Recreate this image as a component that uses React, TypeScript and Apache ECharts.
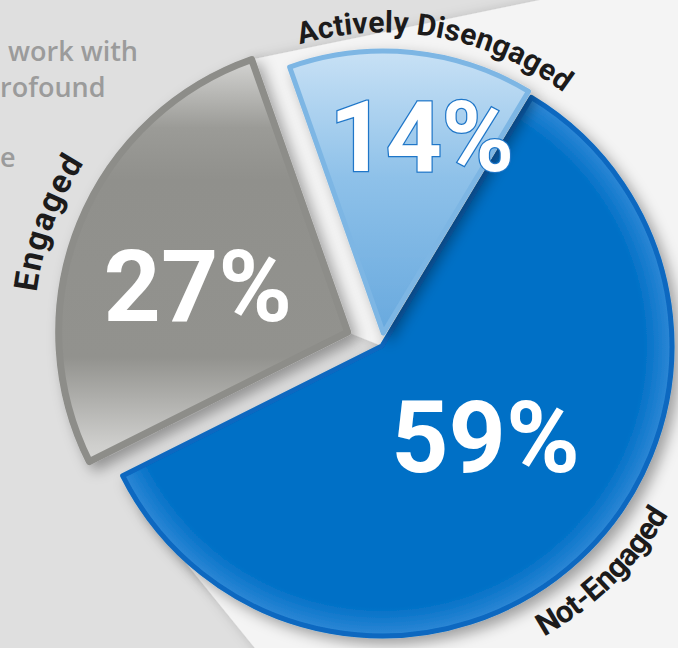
import React, { useEffect, useRef } from 'react';
import * as echarts from 'echarts';

// ---- data ----
const categories = ['Not-Engaged', 'Engaged', 'Actively Disengaged'];
const values = [59, 27, 14];
const sideTextLines = ['work with', 'rofound', 'e'];

// ---- layout constants ----
const START_ANGLE = 59;
const BASE_CENTER = [382, 346];
const OFFSETS = [0, 37, 13];
const RADII = [290, 289, 282];
const LABEL_SHIFT = [
  [3, -17],
  [-13, 10],
  [24, -52],
];
const ARC_TEXT = [
  { r: 322, from: -59, to: -32, size: 31, outward: false },
  { r: 325, from: 171, to: 149, size: 33, outward: true },
  { r: 311, from: 104.2, to: 54.8, size: 30, outward: true },
];
const SIDE_TEXT_POS = [
  [8, 50],
  [0, 86],
  [0, 156],
];

export default function App() {
  const ref = useRef<HTMLDivElement>(null);

  useEffect(() => {
    if (!ref.current) return;
    const chart = echarts.init(ref.current, null, { renderer: 'svg' });

    const total = values.reduce((a, b) => a + b, 0);
    let acc = START_ANGLE;
    const slices = values.map((v, i) => {
      const span = (v / total) * 360;
      const start = acc;
      acc -= span;
      const mid = ((start - span / 2) * Math.PI) / 180;
      const cx = BASE_CENTER[0] + OFFSETS[i] * Math.cos(mid);
      const cy = BASE_CENTER[1] - OFFSETS[i] * Math.sin(mid);
      return { start, end: acc, cx, cy, r: RADII[i] };
    });

    const shadow = {
      shadowBlur: 14,
      shadowColor: 'rgba(0,0,0,0.35)',
      shadowOffsetX: 6,
      shadowOffsetY: 6,
    };

    const styles = [
      {
        color: {
          type: 'radial',
          x: slices[0].cx,
          y: slices[0].cy,
          r: slices[0].r,
          global: true,
          colorStops: [
            { offset: 0, color: '#0070c6' },
            { offset: 0.9, color: '#0070c6' },
            { offset: 1, color: '#2f88d6' },
          ],
        },
        borderColor: '#0868c0',
        borderWidth: 5,
        ...shadow,
      },
      {
        color: {
          type: 'linear',
          x: 0,
          y: 0,
          x2: 0,
          y2: 1,
          colorStops: [
            { offset: 0, color: '#d4d4d2' },
            { offset: 0.17, color: '#9b9b97' },
            { offset: 0.3, color: '#90908c' },
            { offset: 0.74, color: '#92928e' },
            { offset: 0.96, color: '#cfcfcd' },
            { offset: 1, color: '#d4d4d2' },
          ],
        },
        borderColor: '#8d8d89',
        borderWidth: 7,
        ...shadow,
      },
      {
        color: {
          type: 'linear',
          x: 0,
          y: 0,
          x2: 0,
          y2: 1,
          colorStops: [
            { offset: 0, color: '#c8e1f5' },
            { offset: 0.45, color: '#8ec1e9' },
            { offset: 1, color: '#68a9de' },
          ],
        },
        borderColor: '#7db6e4',
        borderWidth: 5,
        ...shadow,
      },
    ];

    const pctFont = 'Roboto, sans-serif';
    const labelStyles = [
      { color: '#ffffff', fontSize: 100, fontWeight: 'bold', fontFamily: pctFont },
      { color: '#ffffff', fontSize: 100, fontWeight: 'bold', fontFamily: pctFont },
      {
        color: '#ffffff',
        fontSize: 98,
        fontWeight: 'bold',
        fontFamily: pctFont,
        textBorderColor: '#1f76c8',
        textBorderWidth: 2.5,
      },
    ];

    const hidden = {
      color: 'rgba(0,0,0,0)',
      borderWidth: 0,
      shadowBlur: 0,
      shadowColor: 'rgba(0,0,0,0)',
    };

    const series = slices.map((s, i) => ({
      type: 'pie',
      name: categories[i],
      center: [s.cx, s.cy],
      radius: [0, s.r],
      startAngle: START_ANGLE,
      clockwise: true,
      silent: true,
      z: 2 + i,
      label: { show: true, position: 'inside', formatter: '{c}%', ...labelStyles[i] },
      labelLine: { show: false },
      labelLayout: { dx: LABEL_SHIFT[i][0], dy: LABEL_SHIFT[i][1] },
      emphasis: { disabled: true },
      data: categories.map((name, j) =>
        j === i
          ? { name, value: values[j], itemStyle: styles[i] }
          : { name, value: values[j], itemStyle: hidden, label: { show: false } }
      ),
    }));

    // curved category labels
    const ctx = document.createElement('canvas').getContext('2d') as CanvasRenderingContext2D;
    const arcEls: any[] = [];
    categories.forEach((name, i) => {
      const cfg = ARC_TEXT[i];
      const s = slices[i];
      const font = `bold ${cfg.size}px Roboto`;
      ctx.font = font;
      const chars = Array.from(name);
      const widths = chars.map((c) => ctx.measureText(c).width);
      const pos: number[] = [];
      let cum = 0;
      widths.forEach((w) => {
        pos.push(cum + w / 2);
        cum += w;
      });
      const L = pos[pos.length - 1] - pos[0];
      chars.forEach((ch, k) => {
        if (ch === ' ') return;
        const t = (pos[k] - pos[0]) / L;
        const th = cfg.from + (cfg.to - cfg.from) * t;
        const rad = (th * Math.PI) / 180;
        const x = s.cx + cfg.r * Math.cos(rad);
        const y = s.cy - cfg.r * Math.sin(rad);
        const rot = ((cfg.outward ? th - 90 : th + 90) * Math.PI) / 180;
        arcEls.push({
          type: 'text',
          x,
          y,
          rotation: rot,
          z: 10,
          silent: true,
          style: {
            text: ch,
            font,
            fill: '#1c1b1b',
            align: 'center',
            verticalAlign: 'middle',
          },
        });
      });
    });

    // light "page" behind the pie
    const blue = slices[0];
    const gray = slices[1];
    const grayStart = (gray.end * Math.PI) / 180;
    const grayTop = [gray.cx + gray.r * Math.cos(grayStart), gray.cy - gray.r * Math.sin(grayStart)];
    const page = {
      type: 'polygon',
      z: 0,
      silent: true,
      shape: {
        points: [
          [540, 0],
          [700, 0],
          [700, 700],
          [297, 700],
          [143, 510],
          [blue.cx, blue.cy],
          [gray.cx, gray.cy],
          grayTop,
        ],
      },
      style: {
        fill: '#f4f4f4',
        shadowBlur: 12,
        shadowColor: 'rgba(0,0,0,0.15)',
      },
    };

    const sideEls = sideTextLines.map((t, i) => ({
      type: 'text',
      x: SIDE_TEXT_POS[i][0],
      y: SIDE_TEXT_POS[i][1],
      z: 10,
      silent: true,
      style: {
        text: t,
        font: "600 27px 'Open Sans'",
        fill: '#9b9b9b',
        align: 'left',
        verticalAlign: 'middle',
      },
    }));

    chart.setOption({
      animation: false,
      backgroundColor: '#dfdfdf',
      graphic: { elements: [page, ...sideEls, ...arcEls] },
      series,
    });

    return () => chart.dispose();
  }, []);

  return (
    <div
      ref={ref}
      style={{ position: 'fixed', left: 0, top: 0, width: 678, height: 648 }}
    />
  );
}
